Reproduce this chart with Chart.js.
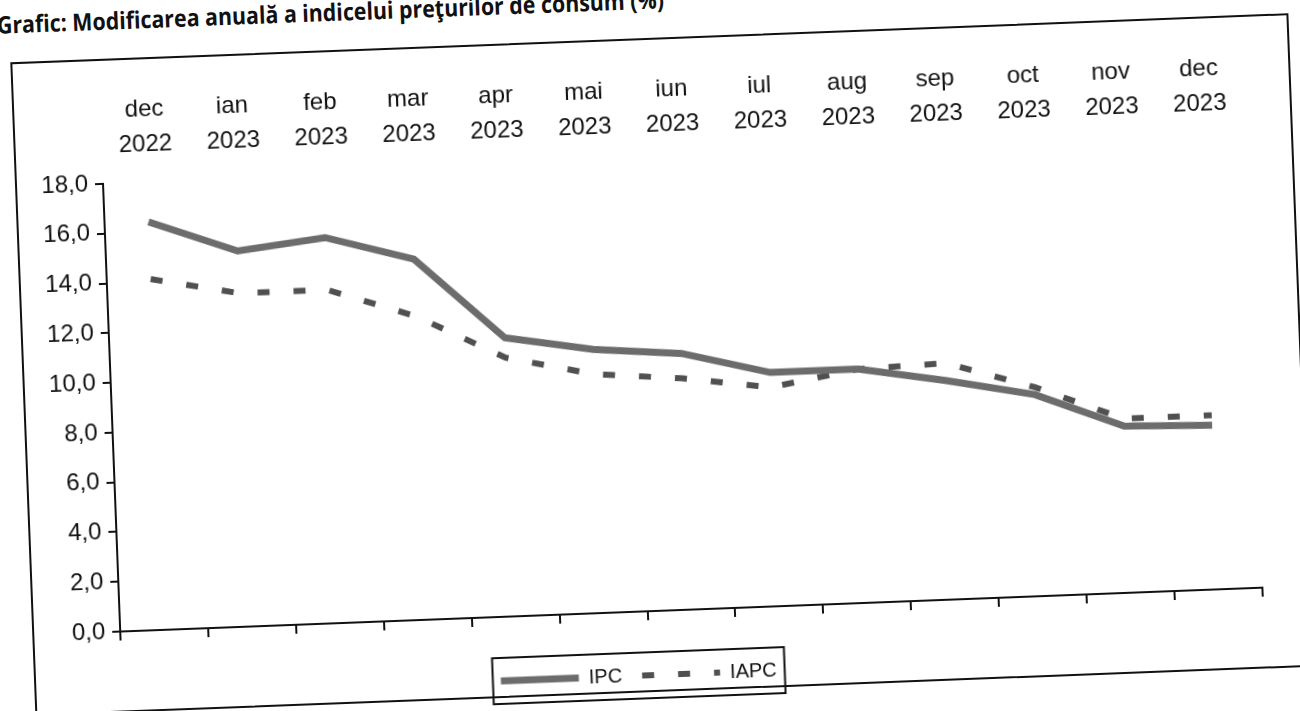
<!DOCTYPE html>
<html>
<head>
<meta charset="utf-8">
<script src="https://cdn.jsdelivr.net/npm/chart.js@4.4.1/dist/chart.umd.min.js"></script>
<style>
  html, body { margin: 0; padding: 0; background: #fff; overflow: hidden; }
  #page {
    position: relative; width: 1300px; height: 711px;
    transform: rotate(-2.2deg); transform-origin: 650px 355px;
  }
  #title {
    position: absolute; left: 10px; top: -17px; white-space: nowrap;
    font-family: "Open Sans", sans-serif;
    font-weight: bold; font-size: 24px; color: #111;
    transform: scaleX(0.89); transform-origin: 0 0;
  }
  #frame {
    position: absolute; left: 22px; top: 38px; width: 1275px; height: 650px;
    border: 2px solid #111;
  }
  #wheel { position: absolute; left: 0; top: 0; }
</style>
</head>
<body>
<div id="page">
  <div id="title">Grafic: Modificarea anuală a indicelui preţurilor de consum (%)</div>
  <div id="frame"></div>
  <canvas id="wheel" width="1300" height="711"></canvas>
</div>
<script>
// months shown above the plot (two lines each)
const months = [
  ['dec', '2022'], ['ian', '2023'], ['feb', '2023'], ['mar', '2023'], ['apr', '2023'],
  ['mai', '2023'], ['iun', '2023'], ['iul', '2023'], ['aug', '2023'], ['sep', '2023'],
  ['oct', '2023'], ['nov', '2023'], ['dec', '2023'],
];
// annual change, %
const ipc = [16.4, 15.1, 15.5, 14.5, 11.2, 10.6, 10.3, 9.4, 9.4, 8.8, 8.1, 6.7, 6.6];
const iapc = [14.1, 13.4, 13.4, 12.2, 10.4, 9.6, 9.3, 8.8, 9.4, 9.5, 8.4, 7.0, 7.0];
// y axis range
const yMin = 0;
const yMax = 18;
const yStep = 2;

const font = 'Liberation Sans, Arial, sans-serif';

//Draws a frame round the legend items
const legendFrame = {
  id: 'legendFrame',
  afterDraw(chart) {
    const boxes = chart.legend.legendHitBoxes;
    if (!boxes || !boxes.length) return;
    const left = Math.min(...boxes.map(b => b.left)) - 8;
    const right = Math.max(...boxes.map(b => b.left + b.width)) + 8;
    const top = Math.min(...boxes.map(b => b.top)) - 13;
    const bottom = Math.max(...boxes.map(b => b.top + b.height)) + 13;
    const ctx = chart.ctx;
    ctx.save();
    ctx.strokeStyle = '#111';
    ctx.lineWidth = 2;
    ctx.strokeRect(left, top, right - left, bottom - top);
    ctx.restore();
  },
};

let chart = new Chart(wheel, {
  type: 'line',
  plugins: [legendFrame],
  data: {
    labels: months,
    datasets: [
      {
        label: 'IPC',
        data: ipc,
        borderColor: '#6c6c6c',
        backgroundColor: '#6c6c6c',
        borderWidth: 7,
        pointRadius: 0,
        tension: 0,
      },
      {
        label: 'IAPC',
        data: iapc,
        borderColor: '#505050',
        backgroundColor: '#505050',
        borderWidth: 6,
        borderDash: [12, 24],
        pointRadius: 0,
        tension: 0,
      },
    ],
  },
  options: {
    responsive: false,
    animation: { duration: 0 },
    layout: { padding: { left: 0, right: 47, top: 0, bottom: 16 } },
    scales: {
      x: {
        position: 'bottom',
        offset: true,
        afterFit: (s) => { s.height = 34; },
        grid: { offset: true, drawOnChartArea: false, tickLength: 9, color: '#111', lineWidth: 2 },
        border: { color: '#111', width: 2 },
        ticks: { display: false },
      },
      x2: {
        position: 'top',
        type: 'category',
        labels: months,
        offset: true,
        afterFit: (s) => { s.height = 163; },
        grid: { display: false, drawTicks: false },
        border: { display: false },
        ticks: {
          color: '#111', padding: 20, maxRotation: 0, autoSkip: false,
          font: { family: font, size: 24, lineHeight: 1.45 },
        },
      },
      y: {
        min: yMin,
        max: yMax,
        afterFit: (s) => { s.width = 110; },
        grid: { drawOnChartArea: false, tickLength: 8, color: '#111', lineWidth: 2 },
        border: { color: '#111', width: 2 },
        ticks: {
          stepSize: yStep, color: '#111', padding: 7,
          font: { family: font, size: 24 },
          callback: (v) => v.toFixed(1).replace('.', ','),
        },
      },
    },
    plugins: {
      tooltip: { enabled: false },
      legend: {
        position: 'bottom',
        labels: {
          usePointStyle: true,
          pointStyle: 'line',
          pointStyleWidth: 78,
          padding: 20,
          color: '#111',
          font: { family: font, size: 20 },
          // take dash and width from the line itself, not from its points
          generateLabels: (c) => Chart.defaults.plugins.legend.labels.generateLabels(c).map((item) => {
            const ds = c.data.datasets[item.datasetIndex];
            item.lineDash = ds.borderDash || [];
            item.lineWidth = ds.borderWidth;
            item.strokeStyle = ds.borderColor;
            return item;
          }),
        },
      },
    },
  },
});
</script>
</body>
</html>
